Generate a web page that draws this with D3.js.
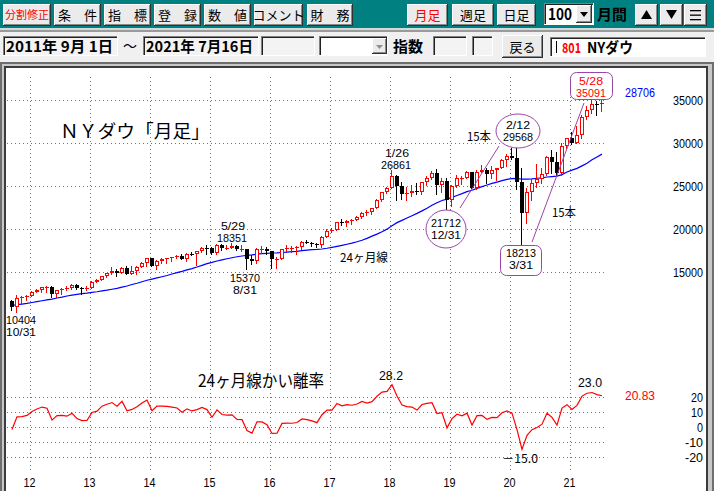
<!DOCTYPE html>
<html>
<head>
<meta charset="utf-8">
<script src="https://cdn.jsdelivr.net/npm/d3@7"></script>
<style>
body { margin: 0; background: #f0f0f0; }
svg { display: block; }
text { font-family: "Noto Sans CJK JP", "DejaVu Sans", sans-serif; }
text.num { font-family: "Liberation Sans", "DejaVu Sans", sans-serif; }
</style>
</head>
<body>
<div id="vis"></div>
<script>
const W = 714, H = 491;

// monthly candles, Sep 2011 .. Jul 2021
const yearLabels = ["12", "13", "14", "15", "16", "17", "18", "19", "20", "21"];
const firstJan = 4; // index of Jan 2012

const opens = [
  11613, 10913, 11955, 12046,
  12218, 12633, 12952, 13212, 13214, 12393, 12880, 13009, 13091, 13437, 13096, 13026,
  13104, 13861, 14054, 14579, 14840, 15116, 14910, 15500, 14810, 15130, 15546, 16086,
  16577, 15699, 16322, 16458, 16581, 16717, 16827, 16563, 17098, 17043, 17391, 17828,
  17823, 17165, 18133, 17776, 17841, 18011, 17620, 17690, 16528, 16285, 17664, 17720,
  17425, 16466, 16517, 17685, 17774, 17787, 17930, 18432, 18401, 18308, 18142, 19124,
  19763, 19864, 20812, 20663, 20941, 21009, 21350, 21891, 21948, 22405, 23377, 24272,
  24719, 26149, 25029, 24103, 24163, 24416, 24271, 25415, 25965, 26458, 25116, 25538,
  23327, 24999, 25916, 25929, 26593, 24815, 26600, 26864, 26403, 26917, 27046, 28051,
  28538, 28256, 25409, 21917, 24346, 25383, 25813, 26428, 28430, 27782, 26502, 29639,
  30606, 29983, 30932, 32982, 33875, 34529, 34503
];
const highs = [
  11717, 12284, 12188, 12294,
  12842, 13056, 13289, 13338, 13338, 12898, 13159, 13330, 13653, 13661, 13290, 13430,
  13970, 14150, 14587, 14888, 15542, 15340, 15634, 15658, 15709, 15722, 16174, 16589,
  16588, 16398, 16588, 16632, 16735, 16978, 17151, 17153, 17350, 17395, 17894, 18103,
  17951, 18244, 18288, 18175, 18351, 18137, 18137, 17730, 16933, 17799, 17977, 17899,
  17425, 16795, 17716, 18168, 18003, 18016, 18622, 18668, 18494, 18399, 19152, 19987,
  20125, 20851, 21169, 21071, 21112, 21535, 21929, 22179, 22420, 23485, 24327, 24876,
  26861, 26307, 25449, 24858, 25087, 25402, 25461, 26168, 26770, 26952, 25981, 25981,
  25075, 26242, 26156, 26696, 26668, 26907, 27399, 27095, 27307, 27121, 28175, 28702,
  29374, 29568, 27102, 24765, 25758, 27580, 27087, 28502, 29199, 28958, 30000, 30637,
  31272, 32010, 33259, 34257, 35091, 34850, 34950
];
const lows = [
  10597, 10404, 11231, 11735,
  12218, 12623, 12710, 12710, 12036, 12035, 12492, 12900, 12977, 12995, 12471, 12883,
  13104, 13784, 14054, 14434, 14758, 14551, 14910, 14760, 14720, 14719, 15546, 15704,
  15698, 15340, 16016, 16015, 16333, 16675, 16563, 16333, 16925, 15855, 17279, 17068,
  17037, 17037, 17585, 17699, 17779, 17596, 17400, 15370, 15942, 16013, 17187, 17139,
  15450, 15503, 16517, 17485, 17331, 17063, 17713, 18348, 17992, 17884, 17888, 19124,
  19678, 19831, 20412, 20379, 20553, 21000, 21279, 21600, 21709, 22405, 23242, 24242,
  24719, 23360, 23509, 23344, 23831, 24077, 24077, 25123, 25822, 24122, 24268, 21712,
  22639, 24883, 25208, 25900, 24777, 24680, 26600, 25340, 25979, 25743, 27046, 27325,
  28169, 24681, 18213, 20735, 23361, 24843, 25391, 26288, 26537, 26143, 26277, 29467,
  29856, 29983, 30547, 32785, 33473, 33271, 33741
];
const closes = [
  10913, 11955, 12046, 12218,
  12633, 12952, 13212, 13214, 12393, 12880, 13009, 13091, 13437, 13096, 13026, 13104,
  13861, 14054, 14579, 14840, 15116, 14910, 15500, 14810, 15130, 15546, 16086, 16577,
  15699, 16322, 16458, 16581, 16717, 16827, 16563, 17098, 17043, 17391, 17828, 17823,
  17165, 18133, 17776, 17841, 18011, 17620, 17690, 16528, 16285, 17664, 17720, 17425,
  16466, 16517, 17685, 17774, 17787, 17930, 18432, 18401, 18308, 18142, 19124, 19763,
  19864, 20812, 20663, 20941, 21009, 21350, 21891, 21948, 22405, 23377, 24272, 24719,
  26149, 25029, 24103, 24163, 24416, 24271, 25415, 25965, 26458, 25116, 25538, 23327,
  24999, 25916, 25929, 26593, 24815, 26600, 26864, 26403, 26917, 27046, 28051, 28538,
  28256, 25409, 21917, 24346, 25383, 25813, 26428, 28430, 27782, 26502, 29639, 30606,
  29983, 30932, 32982, 33875, 34529, 34503, 34688
];
// 24ヶ月線
const ma24 = [
  11105, 11199, 11270, 11344,
  11451, 11561, 11659, 11751, 11845, 11974, 12080, 12208, 12319, 12401, 12485, 12549,
  12631, 12707, 12801, 12886, 12992, 13096, 13236, 13369, 13544, 13694, 13862, 14044,
  14172, 14312, 14447, 14588, 14768, 14932, 15080, 15247, 15398, 15577, 15777, 15973,
  16111, 16281, 16414, 16539, 16660, 16773, 16864, 16936, 16984, 17072, 17140, 17175,
  17207, 17215, 17267, 17316, 17361, 17407, 17485, 17539, 17592, 17623, 17677, 17758,
  17870, 17982, 18102, 18231, 18356, 18512, 18687, 18913, 19168, 19406, 19679, 19983,
  20386, 20741, 21008, 21274, 21550, 21815, 22106, 22421, 22760, 23051, 23318, 23467,
  23681, 23893, 24113, 24348, 24507, 24726, 24933, 25118, 25306, 25459, 25617, 25776,
  25864, 25880, 25788, 25796, 25836, 25901, 25943, 26046, 26101, 26158, 26329, 26633,
  26840, 27049, 27343, 27647, 28051, 28381, 28706
];
// 24ヶ月線かい離率 (%)
const kairi = [
  -1.7, 6.8, 6.9, 7.7,
  10.3, 12.0, 13.3, 12.5, 4.6, 7.6, 7.7, 7.2, 9.1, 5.6, 4.3, 4.4,
  9.7, 10.6, 13.9, 15.2, 16.3, 13.9, 17.1, 10.8, 11.7, 13.5, 16.0, 18.0,
  10.8, 14.0, 13.9, 13.7, 13.2, 12.7, 9.8, 12.1, 10.7, 11.6, 13.0, 11.6,
  6.5, 11.4, 8.3, 7.9, 8.1, 5.0, 4.9, -2.4, -4.1, 3.5, 3.4, 1.5,
  -4.3, -4.1, 2.4, 2.6, 2.5, 3.0, 5.4, 4.9, 4.1, 2.9, 8.2, 11.3,
  11.2, 15.7, 14.1, 14.9, 14.5, 15.3, 17.1, 16.0, 16.9, 20.5, 23.3, 23.7,
  28.2, 20.7, 14.7, 13.6, 13.3, 11.3, 15.0, 15.8, 16.2, 9.0, 9.5, -0.6,
  5.6, 8.5, 7.5, 9.2, 1.3, 7.6, 7.7, 5.1, 6.4, 6.2, 9.5, 10.7,
  9.2, -1.8, -15.0, -5.6, -1.8, -0.3, 1.9, 9.2, 6.4, 1.3, 12.6, 14.9,
  11.7, 14.4, 20.6, 22.5, 23.0, 21.6, 20.83
];
const priceTicks = [35000, 30000, 25000, 20000, 15000];
const kairiTicks = [20, 10, 0, -10, -20];

const svg = d3.select("#vis").append("svg")
    .attr("width", W)
    .attr("height", H);

// width like a bitmap gothic font: half-width = fs/2, full-width = fs
function tw(s, fs) {
    let u = 0;
    for (const c of s) u += c.charCodeAt(0) < 0x3000 ? 0.5 : 1;
    return u * fs;
}

function txt(g, x, y, s, o = {}) {
    const fs = o.size || 12;
    const t = g.append("text")
        .attr("x", x)
        .attr("y", y + fs * 0.4)
        .attr("font-size", fs)
        .attr("fill", o.color || "#000")
        .attr("text-anchor", o.anchor || "start")
        .attr("font-weight", o.bold ? "bold" : "normal")
        .text(s);
    if (o.num) t.attr("class", "num");
    if (o.fit !== false) {
        t.attr("textLength", o.len || tw(s, fs)).attr("lengthAdjust", "spacingAndGlyphs");
    }
    return t;
}

// two stacked lines (date / price) at a turning point
function note(g, x, y, lines, color) {
    const fs = 10.5;
    lines.forEach((s, k) => {
        const xx = Array.isArray(x) ? x[k] : x;
        g.append("text")
            .attr("class", "num")
            .attr("x", xx)
            .attr("y", y - 0.5 + k * 12 + 4)
            .attr("font-size", fs)
            .attr("fill", color || "#000")
            .attr("text-anchor", "middle")
            .attr("textLength", s.length * 6)
            .attr("lengthAdjust", "spacingAndGlyphs")
            .text(s);
    });
}

function button(x, y, w, h, label, color, fs) {
    const g = svg.append("g").attr("shape-rendering", "crispEdges");
    g.append("rect").attr("x", x).attr("y", y).attr("width", w).attr("height", h).attr("fill", "#303030");
    g.append("rect").attr("x", x).attr("y", y).attr("width", w - 1).attr("height", h - 1).attr("fill", "#fff");
    g.append("rect").attr("x", x + 1).attr("y", y + 1).attr("width", w - 2).attr("height", h - 2).attr("fill", "#8a8a8a");
    g.append("rect").attr("x", x + 1).attr("y", y + 1).attr("width", w - 3).attr("height", h - 3).attr("fill", "#ebebeb");
    if (label) txt(svg, x + w / 2, y + h / 2, label, {size: fs || 13, color: color, anchor: "middle"});
    return g;
}

function sunken(x, y, w, h, fill) {
    const g = svg.append("g").attr("shape-rendering", "crispEdges");
    g.append("rect").attr("x", x).attr("y", y).attr("width", w).attr("height", h).attr("fill", "#fff");
    g.append("rect").attr("x", x).attr("y", y).attr("width", w - 1).attr("height", h - 1).attr("fill", "#808080");
    g.append("rect").attr("x", x + 1).attr("y", y + 1).attr("width", w - 2).attr("height", h - 2).attr("fill", "#202020");
    g.append("rect").attr("x", x + 2).attr("y", y + 2).attr("width", w - 3).attr("height", h - 3).attr("fill", fill || "#f3f3f3");
}

// ---- toolbar ----
svg.append("rect").attr("x", 0).attr("y", 0).attr("width", W).attr("height", 28).attr("fill", "#008080");
svg.append("rect").attr("x", 0).attr("y", 28).attr("width", W).attr("height", 2).attr("fill", "#d0dcdc");
svg.append("rect").attr("x", 0).attr("y", 30).attr("width", W).attr("height", 2).attr("fill", "#9a9a9a");

button(3, 4, 48, 22, "分割修正", "#ff0000", 11);
button(54, 4, 47, 22, "条　件");
button(104, 4, 47, 22, "指　標");
button(154, 4, 47, 22, "登　録");
button(204, 4, 47, 22, "数　値");
button(254, 4, 49, 22, "コメント");
button(307, 4, 46, 22, "財　務");
button(407, 4, 41, 22, "月足", "#ff0000");
button(452, 4, 42, 22, "週足");
button(497, 4, 39, 22, "日足");

sunken(544, 3, 50, 22, "#fff");
txt(svg, 548, 14, "100", {size: 16, bold: true, len: 24});
button(576, 5, 16, 18, null);
svg.append("path").attr("d", "M580,12 L588,12 L584,17 Z").attr("fill", "#000");
txt(svg, 597, 14, "月間", {size: 15, bold: true, color: "#000"});

button(635, 4, 23, 22, null);
svg.append("path").attr("d", "M641,19 L652,19 L646.5,10 Z").attr("fill", "#000");
button(660, 4, 23, 22, null);
svg.append("path").attr("d", "M666,10 L677,10 L671.5,19 Z").attr("fill", "#000");
button(684, 4, 23, 22, null);
[10, 14.5, 19].forEach(v => svg.append("rect").attr("x", 690).attr("y", v).attr("width", 11).attr("height", 1.3).attr("fill", "#000"));

// ---- second row ----
sunken(3, 36, 115, 20);
txt(svg, 6, 46, "2011年 9月 1日", {size: 15, bold: true, len: 107});
txt(svg, 123, 45, "～", {size: 14, len: 14});
sunken(143, 36, 116, 20);
txt(svg, 146, 46, "2021年 7月16日", {size: 15, bold: true, len: 107});
sunken(261, 36, 54, 20);
sunken(319, 36, 69, 20, "#fff");
button(372, 38, 15, 16, null);
svg.append("path").attr("d", "M376,45 L383,45 L379.5,49 Z").attr("fill", "#909090");
txt(svg, 393, 46, "指数", {size: 15, bold: true});
sunken(433, 36, 34, 20);
sunken(472, 36, 21, 20);
button(502, 35, 41, 23, "戻る");
sunken(550, 37, 156, 20, "#fff");
svg.append("rect").attr("x", 556).attr("y", 41).attr("width", 1).attr("height", 12).attr("fill", "#000");
txt(svg, 562, 47, "801", {size: 14, bold: true, color: "#ff0000", len: 19});
txt(svg, 587, 47, "NYダウ", {size: 15, bold: true, len: 46});

// ---- chart frame ----
svg.append("rect").attr("x", 0).attr("y", 62).attr("width", W).attr("height", H - 62).attr("fill", "#6e6e6e");
svg.append("rect").attr("x", 2).attr("y", 64).attr("width", W - 4).attr("height", H - 64).attr("fill", "#c8c8c8");
svg.append("rect").attr("x", 4).attr("y", 66).attr("width", 704).attr("height", H - 66).attr("fill", "#3c3c3c");
svg.append("rect").attr("x", 6).attr("y", 68).attr("width", 700).attr("height", H - 68).attr("fill", "#fff");

const chart = svg.append("g");

const x = d3.scaleLinear().domain([0, closes.length - 1]).range([12, 602]);
const y = d3.scaleLinear().domain([15000, 35000]).range([272, 100]);
const ky = d3.scaleLinear().domain([-20, 20]).range([457, 397]);

const gridColor = "#00a4a4";
const grid = chart.append("g").attr("stroke", gridColor).attr("stroke-dasharray", "1,3").attr("shape-rendering", "crispEdges");

grid.selectAll(".hg").data(priceTicks).join("line")
    .attr("x1", 7).attr("x2", 606)
    .attr("y1", d => Math.round(y(d)) + 0.5).attr("y2", d => Math.round(y(d)) + 0.5);
grid.selectAll(".kg").data(kairiTicks).join("line")
    .attr("x1", 7).attr("x2", 606)
    .attr("y1", d => Math.round(ky(d)) + 0.5).attr("y2", d => Math.round(ky(d)) + 0.5);
grid.selectAll(".vg").data(yearLabels).join("line")
    .attr("x1", (d, j) => Math.round(x(firstJan + 12 * j - 0.5)) + 0.5)
    .attr("x2", (d, j) => Math.round(x(firstJan + 12 * j - 0.5)) + 0.5)
    .attr("y1", 77).attr("y2", 470);

yearLabels.forEach((d, j) => txt(chart, x(firstJan + 12 * j - 0.5), 482, d, {anchor: "middle", num: true}));
priceTicks.forEach(v => txt(chart, 703, y(v), String(v), {anchor: "end", num: true}));
kairiTicks.forEach(v => txt(chart, 703, ky(v), String(v), {anchor: "end", num: true}));

// ---- 15本 guide lines ----
const purple = "#9b45a8";
const ann = chart.append("g");
ann.append("line").attr("x1", 460).attr("y1", 208).attr("x2", 499).attr("y2", 146).attr("stroke", purple);
ann.append("line").attr("x1", 532).attr("y1", 242).attr("x2", 584).attr("y2", 103).attr("stroke", purple);

// ---- 24ヶ月線 ----
chart.append("path")
    .datum(ma24)
    .attr("fill", "none")
    .attr("stroke", "#0000ff")
    .attr("stroke-width", 1.2)
    .attr("d", d3.line().x((d, i) => x(i)).y(d => y(d)));

// ---- candles ----
const candles = closes.map((c, i) => ({i, o: opens[i], h: highs[i], l: lows[i], c}));
const cg = chart.append("g").attr("shape-rendering", "crispEdges");
candles.forEach(d => {
    const cx = Math.round(x(d.i));
    const up = d.c >= d.o;
    const col = up ? "#ff0000" : "#000";
    const top = Math.round(y(Math.max(d.o, d.c)));
    const bot = Math.round(y(Math.min(d.o, d.c)));
    cg.append("line")
        .attr("x1", cx - 0.5).attr("x2", cx - 0.5)
        .attr("y1", Math.round(y(d.h))).attr("y2", Math.round(y(d.l)) + 1)
        .attr("stroke", col);
    if (bot - top < 2) {
        cg.append("rect").attr("x", cx - 2).attr("y", top).attr("width", 4).attr("height", 1).attr("fill", col);
    } else if (up) {
        cg.append("rect").attr("x", cx - 1.5).attr("y", top + 0.5)
            .attr("width", 3).attr("height", bot - top - 1)
            .attr("fill", "#fff").attr("stroke", col);
    } else {
        cg.append("rect").attr("x", cx - 2).attr("y", top).attr("width", 4).attr("height", bot - top).attr("fill", col);
    }
});

// ---- かい離率 ----
chart.append("path")
    .datum(kairi)
    .attr("fill", "none")
    .attr("stroke", "#ff0000")
    .attr("stroke-width", 1.2)
    .attr("d", d3.line().x((d, i) => x(i)).y(d => ky(d)));

// ---- labels ----
txt(chart, 60, 131, "ＮＹダウ「月足」", {size: 18, len: 150});
note(chart, [233, 232], 226, ["5/29", "18351"]);
note(chart, 245, 278, ["15370", "8/31"]);
note(chart, 21, 320, ["10404", "10/31"]);
note(chart, [397, 396], 153, ["1/26", "26861"]);
txt(chart, 479, 136, "15本", {anchor: "middle"});
txt(chart, 564, 212, "15本", {anchor: "middle"});
txt(chart, 364, 257, "24ヶ月線", {anchor: "middle"});

ann.raise();
const ell = chart.append("g").attr("fill", "#fff").attr("stroke", purple);
ell.append("ellipse").attr("cx", 518).attr("cy", 131).attr("rx", 22).attr("ry", 17);
ell.append("ellipse").attr("cx", 446).attr("cy", 229).attr("rx", 20).attr("ry", 19);
ell.append("rect").attr("x", 500.5).attr("y", 245.5).attr("width", 41).attr("height", 30).attr("rx", 6);
ell.append("rect").attr("x", 570.5).attr("y", 72.5).attr("width", 42).attr("height", 27).attr("rx", 6);
note(chart, 518, 125, ["2/12", "29568"]);
note(chart, 446, 223, ["21712", "12/31"]);
note(chart, 521, 253, ["18213", "3/31"]);
note(chart, 591, 81, ["5/28", "35091"], "#ff0000");

txt(chart, 625, 92, String(ma24[ma24.length - 1]), {color: "#0000ff", num: true});
txt(chart, 625, 395, kairi[kairi.length - 1].toFixed(2), {color: "#ff0000", num: true});

txt(chart, 198, 380, "24ヶ月線かい離率", {size: 17, len: 126});
txt(chart, 391, 375, "28.2", {anchor: "middle", num: true});
txt(chart, 590, 382, "23.0", {anchor: "middle", num: true});
txt(chart, 520, 458, "－15.0", {anchor: "middle"});
</script>
</body>
</html>
